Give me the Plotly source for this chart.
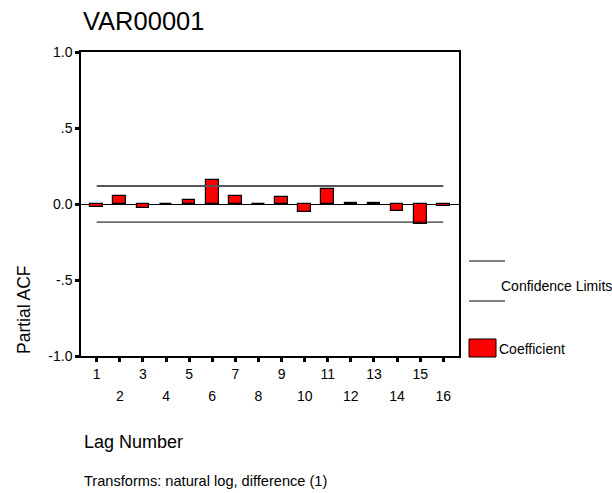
import plotly.graph_objects as go

lags = list(range(1, 17))
pacf = [-0.018, 0.055, -0.028, -0.002, 0.026, 0.158, 0.055, -0.002,
        0.044, -0.055, 0.096, 0.009, 0.009, -0.046, -0.134, -0.011]
conf_upper = [0.119] * 16
conf_lower = [-0.119] * 16
y_ticks = [-1.0, -0.5, 0.0, 0.5, 1.0]
y_tick_labels = ["-1.0", "-.5", "0.0", ".5", "1.0"]
odd_lags = [l for l in lags if l % 2 == 1]
even_lags = [l for l in lags if l % 2 == 0]

FONT = "Liberation Sans, Arial, sans-serif"

fig = go.Figure()
fig.add_trace(go.Bar(x=lags, y=pacf, width=0.55,
                     marker=dict(color="#ff0000", line=dict(color="black", width=1.2)),
                     showlegend=False))
fig.add_trace(go.Scatter(x=lags, y=conf_upper, mode="lines",
                         line=dict(color="#555555", width=2), showlegend=False))
fig.add_trace(go.Scatter(x=lags, y=conf_lower, mode="lines",
                         line=dict(color="black", width=1), showlegend=False))
# invisible trace to activate second x axis (even tick labels)
fig.add_trace(go.Scatter(x=even_lags, y=[0] * len(even_lags), xaxis="x2", mode="markers",
                         marker=dict(opacity=0), showlegend=False, hoverinfo="skip"))

def px2x(px):
    return (px - 81) / 378.0

def py2y(py):
    return (356 - py) / 304.0

shapes = [
    dict(type="line", xref="paper", yref="paper", x0=px2x(469), x1=px2x(505),
         y0=py2y(261), y1=py2y(261), line=dict(color="black", width=1)),
    dict(type="line", xref="paper", yref="paper", x0=px2x(469), x1=px2x(505),
         y0=py2y(301), y1=py2y(301), line=dict(color="black", width=1)),
    dict(type="rect", xref="paper", yref="paper", x0=px2x(469), x1=px2x(496),
         y0=py2y(357), y1=py2y(339), fillcolor="#ff0000",
         line=dict(color="black", width=1)),
]

annotations = [
    dict(text="Confidence Limits", xref="paper", yref="paper", x=px2x(499), y=py2y(286),
         xanchor="left", yanchor="middle", showarrow=False,
         font=dict(family=FONT, size=14, color="black")),
    dict(text="Coefficient", xref="paper", yref="paper", x=px2x(497), y=py2y(349),
         xanchor="left", yanchor="middle", showarrow=False,
         font=dict(family=FONT, size=14, color="black")),
    dict(text="Partial ACF", xref="paper", yref="paper", x=px2x(24), y=py2y(310),
         xanchor="center", yanchor="middle", textangle=-90, showarrow=False,
         font=dict(family=FONT, size=17.5, color="black")),
    dict(text="Lag Number", xref="paper", yref="paper", x=px2x(82), y=py2y(442),
         xanchor="left", yanchor="middle", showarrow=False,
         font=dict(family=FONT, size=18, color="black")),
    dict(text="Transforms: natural log, difference (1)", xref="paper", yref="paper",
         x=px2x(82), y=py2y(481), xanchor="left", yanchor="middle", showarrow=False,
         font=dict(family=FONT, size=14.6, color="black")),
]

fig.update_layout(
    width=612, height=493,
    margin=dict(l=81, r=153, t=52, b=137),
    paper_bgcolor="white", plot_bgcolor="white",
    font=dict(family=FONT, color="black"),
    title=dict(text="VAR00001", x=83 / 612, xanchor="left", xref="container",
               y=1 - 21 / 493, yanchor="middle", yref="container",
               font=dict(family=FONT, size=25.5, color="black")),
    xaxis=dict(range=[0.32, 16.68], tickvals=lags,
               ticktext=[str(l) if l % 2 == 1 else "" for l in lags],
               showgrid=False, zeroline=False, showline=True, mirror=True,
               linecolor="black", linewidth=1.5, ticks="outside", ticklen=4,
               tickwidth=3, tickcolor="black", tickfont=dict(size=14),
               tickangle=0),
    xaxis2=dict(range=[0.32, 16.68], overlaying="x", side="bottom", anchor="y",
                tickvals=even_lags, ticktext=[str(l) for l in even_lags],
                showgrid=False, zeroline=False, showline=False, ticks="",
                ticklabelstandoff=30, tickfont=dict(size=14), tickangle=0),
    yaxis=dict(range=[-1.0, 1.0], tickvals=y_ticks, ticktext=y_tick_labels,
               showgrid=False, zeroline=True, zerolinecolor="black", zerolinewidth=1,
               showline=True, mirror=True, linecolor="black", linewidth=1.5,
               ticks="outside", ticklen=4, tickwidth=3, tickcolor="black",
               tickfont=dict(size=14)),
    shapes=shapes, annotations=annotations, bargap=0,
)

fig.write_html("out.html")
